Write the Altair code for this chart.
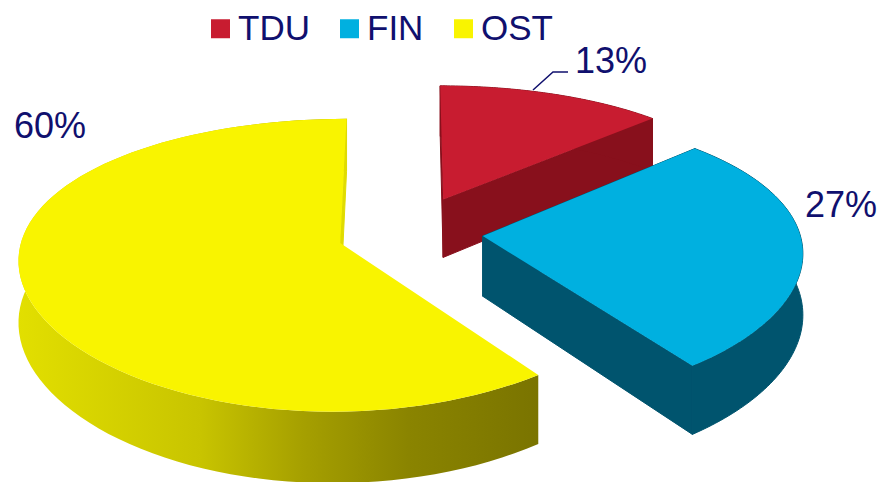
import altair as alt
import pandas as pd

# ---------------- data ----------------
categories = ["TDU", "FIN", "OST"]
values = [13, 27, 60]

# ---------------- styles / layout ----------------
top_colors = ["#c81c30", "#00b0e0", "#f9f400"]
wall_colors = {"TDU": "#88101c", "FIN": "#00546e", "OST_face": "#e0dc00"}
explode = [0.27, 0.23, 0.23]   # per-slice explosion (fraction of radius)
NAVY = "#10106e"
FONT = "Liberation Sans"
W, H = 880, 482
CX, CY = 410, 233          # pie centre (pixels)
A, B = 317, 140            # ellipse semi-axes of the tilted pie
PY, PX = 0.15, 0.10        # simple perspective strength (vertical / horizontal)
DEPTH = 60                 # thickness of the 3D pie
N = 90                     # arc resolution

label_x = [611, 841, 50]   # label anchor (centre x)
label_y = [73, 217, 138]   # label baseline
leader_x = [533, 553, 568]
leader_y = [90, 72, 72]

df = pd.DataFrame({"cat": categories, "value": values, "ex": explode})
df_lab = pd.DataFrame({"cat": categories, "value": values, "lx": label_x, "ly": label_y})
df_lead = pd.DataFrame({"px": leader_x, "py": leader_y, "i": list(range(len(leader_x)))})

X = alt.X("px:Q", scale=alt.Scale(domain=[0, W], nice=False, zero=False), axis=None)
Y = alt.Y("py:Q", scale=alt.Scale(domain=[0, H], nice=False, zero=False, reverse=True), axis=None)


def geometry(ch):
    return (
        ch.transform_joinaggregate(total="sum(value)")
        .transform_window(cum="sum(value)", frame=[None, 0])
        .transform_calculate(t0="2*PI*(datum.cum - datum.value)/datum.total")
        .transform_calculate(t1="2*PI*datum.cum/datum.total")
        .transform_calculate(mid="(datum.t0 + datum.t1)/2")
        .transform_calculate(ou="datum.ex*sin(datum.mid)")
        .transform_calculate(ow="-datum.ex*cos(datum.mid)")
    )


def project(ch, r, t, bot):
    """r: radius expr (0/1), t: angle expr, bot: 0/1 expr for bottom rim."""
    return (
        ch.transform_calculate(U=f"datum.ou + ({r})*sin({t})")
        .transform_calculate(Wf=f"datum.ow - ({r})*cos({t})")
        .transform_calculate(ky=f"1/(1 - {PY}*datum.Wf)")
        .transform_calculate(kx=f"1/(1 - {PX}*datum.Wf)")
        .transform_calculate(px=f"{CX} + {A}*datum.U*datum.kx")
        .transform_calculate(py=f"{CY} + {B}*datum.Wf*datum.ky + ({bot})*{DEPTH}*datum.ky")
    )


def band(cat, fill, sw):
    ch = (
        geometry(alt.Chart(df))
        .transform_filter(f"datum.cat == '{cat}'")
        .transform_calculate(i=f"sequence(0, {2 * N + 2})")
        .transform_flatten(["i"])
        .transform_calculate(
            t=f"datum.i <= {N} ? datum.t0 + (datum.t1 - datum.t0)*datum.i/{N} : datum.t1 - (datum.t1 - datum.t0)*(datum.i - {N} - 1)/{N}"
        )
    )
    ch = project(ch, "1", "datum.t", f"(datum.i > {N} ? 1 : 0)")
    return ch.mark_line(fill=fill, stroke=fill, strokeWidth=sw, interpolate="linear-closed").encode(
        x=X, y=Y, order=alt.Order("i:Q")
    )


def faces(cat, fill, pieces="[0, 1]"):
    ch = (
        geometry(alt.Chart(df))
        .transform_filter(f"datum.cat == '{cat}'")
        .transform_calculate(piece=pieces)
        .transform_flatten(["piece"])
        .transform_calculate(i="sequence(0, 4)")
        .transform_flatten(["i"])
        .transform_calculate(tf="datum.piece == 0 ? datum.t0 : datum.t1")
    )
    ch = project(
        ch,
        "((datum.i == 1 || datum.i == 2) ? 1 : 0)",
        "datum.tf",
        "(datum.i >= 2 ? 1 : 0)",
    )
    return ch.mark_line(fill=fill, stroke=fill, strokeWidth=1, interpolate="linear-closed").encode(
        x=X, y=Y, order=alt.Order("i:Q"), detail="piece:N"
    )


ost_grad = alt.LinearGradient(
    gradient="linear",
    stops=[
        alt.GradientStop(offset=0, color="#e2df00"),
        alt.GradientStop(offset=0.35, color="#c8c400"),
        alt.GradientStop(offset=0.55, color="#a59f00"),
        alt.GradientStop(offset=0.75, color="#8a8400"),
        alt.GradientStop(offset=1, color="#7a7400"),
    ],
    x1=0, x2=1, y1=0, y2=0,
)

walls = [
    faces("TDU", wall_colors["TDU"]),
    band("TDU", wall_colors["TDU"], 1),
    faces("FIN", wall_colors["FIN"]),
    band("FIN", wall_colors["FIN"], 1),
    band("OST", ost_grad, 0),
    faces("OST", wall_colors["OST_face"], "[1]"),
]

tops_base = (
    geometry(alt.Chart(df))
    .transform_calculate(i=f"sequence(0, {N + 2})")
    .transform_flatten(["i"])
    .transform_calculate(t=f"datum.t0 + (datum.t1 - datum.t0)*(datum.i - 1)/{N}")
)
tops = (
    project(tops_base, "(datum.i == 0 ? 0 : 1)", "datum.t", "0")
    .mark_line(strokeWidth=0, interpolate="linear-closed")
    .encode(
        x=X,
        y=Y,
        order=alt.Order("i:Q"),
        fill=alt.Fill(
            "cat:N",
            scale=alt.Scale(domain=categories, range=top_colors),
            sort=categories,
            legend=alt.Legend(
                title=None,
                orient="none",
                legendX=203,
                legendY=11,
                direction="horizontal",
                symbolType="square",
                symbolSize=361,
                symbolStrokeWidth=0,
                symbolOpacity=1,
                labelFontSize=35,
                labelFont=FONT,
                labelColor=NAVY,
                labelOffset=0,
                columnPadding=22,
                padding=0,
            ),
        ),
    )
)

labels = (
    alt.Chart(df_lab)
    .transform_joinaggregate(total="sum(value)")
    .transform_calculate(pct="format(datum.value/datum.total, '.0%')")
    .mark_text(font=FONT, fontSize=36, color=NAVY, align="center", baseline="alphabetic")
    .encode(
        x=alt.X("lx:Q", scale=alt.Scale(domain=[0, W], nice=False, zero=False), axis=None),
        y=alt.Y("ly:Q", scale=alt.Scale(domain=[0, H], nice=False, zero=False, reverse=True), axis=None),
        text="pct:N",
    )
)

leader = (
    alt.Chart(df_lead)
    .mark_line(color=NAVY, strokeWidth=1.5)
    .encode(x=X, y=Y, order=alt.Order("i:Q"))
)

chart = (
    alt.layer(*walls, tops, leader, labels)
    .properties(width=W, height=H, padding=0, autosize=alt.AutoSizeParams(type="none"))
    .configure_view(stroke=None)
)

chart.save("out.html", embed_options={"renderer": "svg", "actions": False})
